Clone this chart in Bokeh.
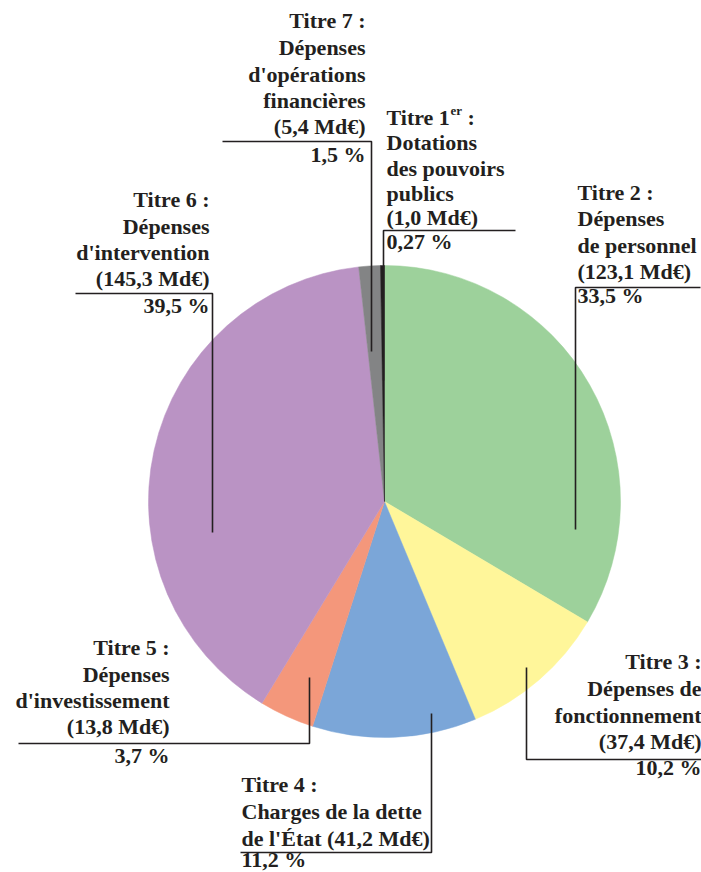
import math
from bokeh.plotting import figure
from bokeh.models import Range1d, ColumnDataSource
from bokeh.core.properties import value
from bokeh.embed import file_html
from bokeh.resources import INLINE

# ---- data (clockwise from 12 o'clock) ----
titles = ["Titre 2 :", "Titre 3 :", "Titre 4 :", "Titre 5 :", "Titre 6 :", "Titre 7 :", "Titre 1er :"]
names = [
    ["Dépenses", "de personnel"],
    ["Dépenses de", "fonctionnement"],
    ["Charges de la dette", "de l'État"],
    ["Dépenses", "d'investissement"],
    ["Dépenses", "d'intervention"],
    ["Dépenses", "d'opérations", "financières"],
    ["Dotations", "des pouvoirs", "publics"],
]
amounts = [123.1, 37.4, 41.2, 13.8, 145.3, 5.4, 1.0]          # Md€
amount_labels = ["(123,1 Md€)", "(37,4 Md€)", "(41,2 Md€)", "(13,8 Md€)",
                 "(145,3 Md€)", "(5,4 Md€)", "(1,0 Md€)"]
pct_labels = ["33,5 %", "10,2 %", "11,2 %", "3,7 %", "39,5 %", "1,5 %", "0,27 %"]
colors = ["#9dd19b", "#fff69a", "#7ba6d8", "#f4977b", "#ba93c4", "#838485", "#231f20"]

# ---- layout (page pixel coordinates) ----
W, H = 701, 872
TEXT_DY = 7  # renderer places alphabetic baseline slightly low

def Y(py):
    return H - py

def YT(py):
    return H - (py - TEXT_DY)

CX, CY, R = 384, 501, 236
INK = "#231f20"
FONT = value("Liberation Serif")
FS = "22px"

p = figure(width=W, height=H, output_backend="svg", toolbar_location=None,
           x_range=Range1d(0, W), y_range=Range1d(0, H),
           min_border=0)
p.axis.visible = False
p.grid.visible = False
p.outline_line_color = None
p.background_fill_color = "white"
p.border_fill_color = "white"

total = sum(amounts)
starts, ends = [], []
cum = 0.0
for a in amounts:
    starts.append(math.pi / 2 - 2 * math.pi * cum / total)
    cum += a
    ends.append(math.pi / 2 - 2 * math.pi * cum / total)

src = ColumnDataSource(dict(x=[CX] * len(amounts), y=[Y(CY)] * len(amounts),
                            start=starts, end=ends, color=colors))
p.wedge(x="x", y="y", radius=R, start_angle="start", end_angle="end",
        direction="clock", fill_color="color", line_color="color", line_width=0.5,
        source=src)

# leader lines: (points) per slice
leaders = [
    [(700, 287), (575, 287), (575, 529)],      # Titre 2
    [(701, 759), (526, 759), (526, 667)],      # Titre 3
    [(240, 852), (431, 852), (431, 713)],      # Titre 4
    [(18, 743), (309, 743), (309, 677)],       # Titre 5
    [(75, 293), (212, 293), (212, 532)],       # Titre 6
    [(222, 141), (371, 141), (371, 351)],      # Titre 7
    [(515, 230), (383, 230), (383, 380)],      # Titre 1
]
p.multi_line(xs=[[pt[0] for pt in l] for l in leaders],
             ys=[[Y(pt[1]) for pt in l] for l in leaders],
             line_color=INK, line_width=1.6)

# label blocks: anchor x, alignment, baselines of lines above rule, baseline of pct
blocks = [
    (577, "left",  [199, 225, 252, 278], 302),   # Titre 2
    (701, "right", [668, 695, 722, 748], 774),   # Titre 3
    (241, "left",  [791, 818, 845], 866),        # Titre 4
    (169, "right", [654, 681, 707, 733], 762),   # Titre 5
    (209, "right", [206, 233, 259, 285], 312),   # Titre 6
    (365, "right", [27, 54, 81, 107, 133], 161), # Titre 7
    (386, "left",  [124, 149, 175, 200, 224], 248),  # Titre 1
]

tx, ty, tt, ta = [], [], [], []
for i, (ax, al, bls, pb) in enumerate(blocks):
    lines = [titles[i]] + list(names[i]) + [amount_labels[i]]
    if i == 2:  # Titre 4: amount on same line as last name line
        lines = [titles[i], names[i][0], names[i][1] + " " + amount_labels[i]]
    if i == 6:  # Titre 1er: superscript handled separately
        lines[0] = None
    for ln, b in zip(lines, bls):
        if ln is None:
            continue
        tx.append(ax); ty.append(YT(b)); tt.append(ln); ta.append(al)
    tx.append(ax); ty.append(YT(pb)); tt.append(pct_labels[i]); ta.append(al)

p.text(x=tx, y=ty, text=tt, text_align=ta, text_baseline="alphabetic",
       text_font=FONT, text_font_style="bold", text_font_size=FS, text_color=INK)

# "Titre 1er :" with superscript
t1 = titles[6]
p.text(x=[386], y=[YT(124)], text=[t1.split("er")[0]], text_align="left",
       text_baseline="alphabetic", text_font=FONT, text_font_style="bold",
       text_font_size=FS, text_color=INK)
p.text(x=[450], y=[YT(117)], text=["er"], text_align="left",
       text_baseline="alphabetic", text_font=FONT, text_font_style="bold",
       text_font_size="13px", text_color=INK)
p.text(x=[467], y=[YT(124)], text=[t1.split("er")[1].strip()], text_align="left",
       text_baseline="alphabetic", text_font=FONT, text_font_style="bold",
       text_font_size=FS, text_color=INK)

open("out.html", "w").write(file_html(p, INLINE))
